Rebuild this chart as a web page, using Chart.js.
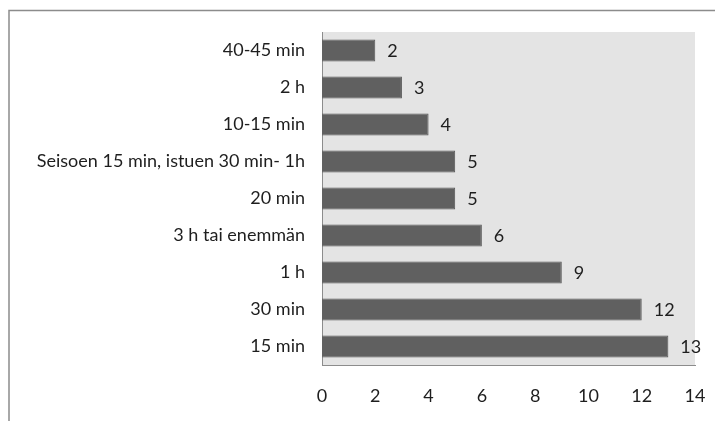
<!DOCTYPE html>
<html>
<head>
<meta charset="utf-8">
<script src="https://cdn.jsdelivr.net/npm/chart.js@4/dist/chart.umd.min.js"></script>
<style>
  html, body { margin: 0; padding: 0; background: #ffffff; }
  #wrap { width: 715px; height: 421px; position: relative; }
</style>
</head>
<body>
<div id="wrap"><canvas id="c" width="715" height="421"></canvas></div>
<script>
// Answer categories, listed top to bottom
const categories = [
  '40-45 min',
  '2 h',
  '10-15 min',
  'Seisoen 15 min, istuen 30 min- 1h',
  '20 min',
  '3 h tai enemmän',
  '1 h',
  '30 min',
  '15 min'
];
// Number of answers per category
const counts = [2, 3, 4, 5, 5, 6, 9, 12, 13];
// Value axis range and step
const axisMin = 0;
const axisMax = 14;
const axisStep = 2;

const FONT = 'Lato, "Open Sans", sans-serif';
const SIZE = 18;
const TEXT = '#1e1e1e';

// Grey plot background plus the frame around the whole chart
const framePlugin = {
  id: 'frame',
  beforeDraw(chart) {
    const { ctx, chartArea: a } = chart;
    ctx.save();
    ctx.fillStyle = '#e4e4e4';
    ctx.fillRect(a.left, a.top, a.right - a.left, a.bottom - a.top);
    ctx.strokeStyle = '#8c8c8c';
    ctx.lineWidth = 1.5;
    ctx.strokeRect(9, 10.5, 800, 500);
    ctx.restore();
  }
};

// Value written just past the end of each bar
const valueLabels = {
  id: 'valueLabels',
  afterDatasetsDraw(chart) {
    const { ctx } = chart;
    const meta = chart.getDatasetMeta(0);
    ctx.save();
    ctx.font = SIZE + 'px ' + FONT;
    ctx.fillStyle = TEXT;
    ctx.textAlign = 'left';
    ctx.textBaseline = 'middle';
    meta.data.forEach((bar, i) => {
      ctx.fillText(String(counts[i]), bar.x + 12, bar.y + 1);
    });
    ctx.restore();
  }
};

new Chart(document.getElementById('c'), {
  type: 'bar',
  data: {
    labels: categories,
    datasets: [{
      data: counts,
      backgroundColor: '#606060',
      borderColor: '#555555',
      borderWidth: 1,
      categoryPercentage: 1,
      barPercentage: 0.6
    }]
  },
  options: {
    indexAxis: 'y',
    responsive: false,
    animation: false,
    layout: { padding: { top: 32, right: 20, left: 0, bottom: 0 } },
    plugins: { legend: { display: false }, tooltip: { enabled: false } },
    scales: {
      x: {
        min: axisMin,
        max: axisMax,
        ticks: { stepSize: axisStep, color: TEXT, font: { family: FONT, size: SIZE }, padding: 20 },
        grid: { display: false, drawTicks: false },
        border: { display: true, color: '#8c8c8c', width: 1 },
        afterFit(scale) {
          scale.height = 56;
          scale.paddingLeft = 0;
          scale.paddingRight = 0;
        }
      },
      y: {
        ticks: { color: TEXT, font: { family: FONT, size: SIZE }, padding: 17, autoSkip: false },
        grid: { display: false, drawTicks: false },
        border: { display: true, color: '#8c8c8c', width: 1 },
        afterFit(scale) {
          scale.width = 322;
          scale.paddingTop = 0;
          scale.paddingBottom = 0;
        }
      }
    }
  },
  plugins: [framePlugin, valueLabels]
});
</script>
</body>
</html>
